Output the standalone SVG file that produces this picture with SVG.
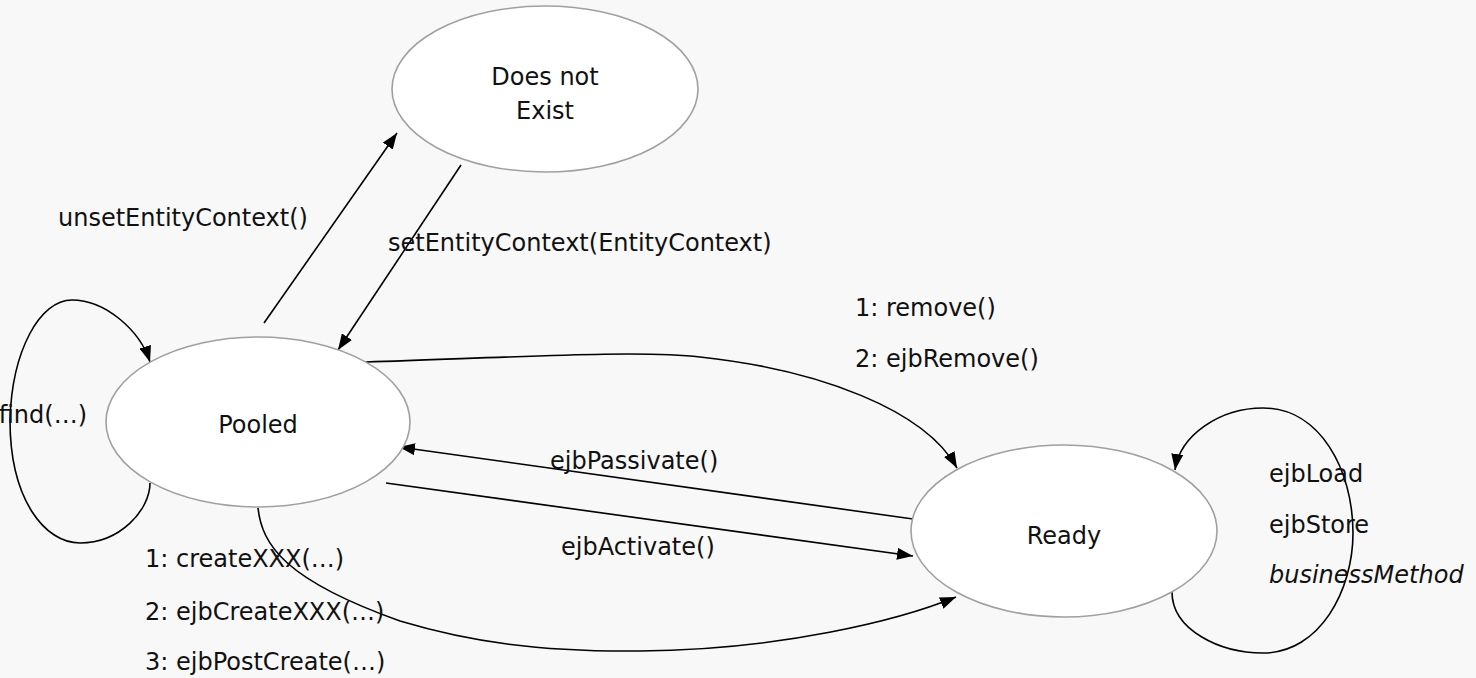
<svg xmlns="http://www.w3.org/2000/svg" width="1476" height="678" viewBox="0 0 1476 678">
<style>
.bg{fill:#f8f8f8}
.state{fill:#ffffff;stroke:#a0a0a0;stroke-width:1.6}
.lbl{font-family:"DejaVu Sans","Liberation Sans",sans-serif;font-size:24px;fill:#111111}
.mid{text-anchor:middle}
.conn{fill:none;stroke:#000000;stroke-width:1.6}
</style>
<defs>
<marker id="arr" viewBox="0 0 16 12" refX="16" refY="6" markerWidth="16" markerHeight="12" markerUnits="userSpaceOnUse" orient="auto">
<path d="M0,0 L16,6 L0,12 Z" fill="#000000"/>
</marker>
</defs>
<rect class="bg" x="0" y="0" width="1476" height="678"/>
<g id="connectors">
<path class="conn" d="M264,323 L397,133" marker-end="url(#arr)"/>
<path class="conn" d="M461,165 L338,350" marker-end="url(#arr)"/>
<path class="conn" d="M150,483 C150,510 120,543 80,543 C45,543 10,500 10,420 C12,350 40,300 72,300 C105,300 140,330 150,362" marker-end="url(#arr)"/>
<path class="conn" d="M366,362 C520,357 640,350 700,357 C820,370 925,410 957,468" marker-end="url(#arr)"/>
<path class="conn" d="M913,519 L399,447" marker-end="url(#arr)"/>
<path class="conn" d="M386,483 L913,556" marker-end="url(#arr)"/>
<path class="conn" d="M258,508 C262,545 285,580 400,621 C470,642 540,652 640,651 C780,650 900,620 956,597" marker-end="url(#arr)"/>
<path class="conn" d="M1172,592 C1172,630 1220,653 1263,653 C1320,653 1353,590 1353,533 C1353,470 1320,408 1263,408 C1220,408 1180,435 1175,470" marker-end="url(#arr)"/>
</g>
<g id="node-doesnotexist">
<ellipse class="state" cx="545" cy="89" rx="153" ry="83"/>
<text class="lbl mid" x="545" y="85">Does not</text>
<text class="lbl mid" x="545" y="119">Exist</text>
</g>
<g id="node-pooled">
<ellipse class="state" cx="258" cy="422" rx="152" ry="85"/>
<text class="lbl mid" x="258" y="433">Pooled</text>
</g>
<g id="node-ready">
<ellipse class="state" cx="1064" cy="531" rx="153" ry="86"/>
<text class="lbl mid" x="1064" y="544">Ready</text>
</g>
<g id="labels">
<text class="lbl" x="58" y="226">unsetEntityContext()</text>
<text class="lbl" x="388" y="251">setEntityContext(EntityContext)</text>
<text class="lbl" x="855" y="316">1: remove()</text>
<text class="lbl" x="855" y="367">2: ejbRemove()</text>
<text class="lbl" x="87" y="423" text-anchor="end">find(…)</text>
<text class="lbl" x="550" y="469">ejbPassivate()</text>
<text class="lbl" x="561" y="555">ejbActivate()</text>
<text class="lbl" x="1269" y="482">ejbLoad</text>
<text class="lbl" x="1269" y="533">ejbStore</text>
<text class="lbl" x="1269" y="583" font-style="italic">businessMethod</text>
<text class="lbl" x="145" y="567">1: createXXX(…)</text>
<text class="lbl" x="145" y="620">2: ejbCreateXXX(…)</text>
<text class="lbl" x="145" y="670">3: ejbPostCreate(…)</text>
</g>
</svg>
